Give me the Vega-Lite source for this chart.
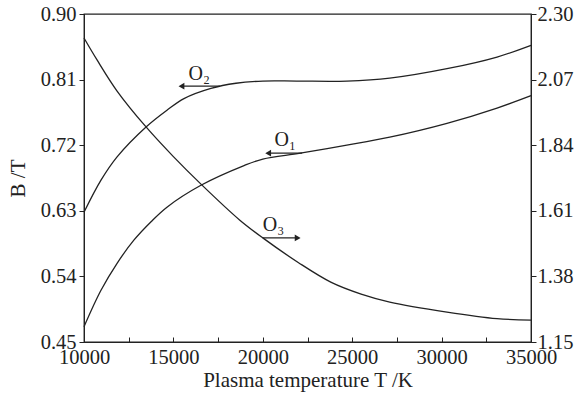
{
  "$schema": "https://vega.github.io/schema/vega-lite/v6.json",
  "width": 447,
  "height": 328,
  "autosize": {"type": "none"},
  "padding": {"left": 84, "top": 14, "right": 43, "bottom": 58},
  "background": "white",
  "config": {
    "view": {"stroke": "#222", "strokeWidth": 1.3},
    "font": "Liberation Serif",
    "axis": {"grid": false, "labelFont": "Liberation Serif", "titleFont": "Liberation Serif", "labelColor": "#222", "titleColor": "#222", "domainColor": "#222", "tickColor": "#222", "titleFontWeight": "normal", "labelFontSize": 20.5, "titleFontSize": 21}
  },
  "datasets": {
    "left": [
      {"T": 10000, "B": 0.471, "s": "O1"}, {"T": 10950, "B": 0.521, "s": "O1"}, {"T": 11850, "B": 0.558, "s": "O1"}, {"T": 12800, "B": 0.590, "s": "O1"}, {"T": 13750, "B": 0.615, "s": "O1"}, {"T": 14640, "B": 0.635, "s": "O1"}, {"T": 16540, "B": 0.665, "s": "O1"}, {"T": 18950, "B": 0.692, "s": "O1"}, {"T": 20000, "B": 0.701, "s": "O1"}, {"T": 22100, "B": 0.709, "s": "O1"}, {"T": 24700, "B": 0.720, "s": "O1"}, {"T": 27100, "B": 0.731, "s": "O1"}, {"T": 30300, "B": 0.750, "s": "O1"}, {"T": 33100, "B": 0.771, "s": "O1"}, {"T": 35000, "B": 0.788, "s": "O1"},
      {"T": 10000, "B": 0.628, "s": "O2"}, {"T": 10950, "B": 0.672, "s": "O2"}, {"T": 11850, "B": 0.704, "s": "O2"}, {"T": 13470, "B": 0.745, "s": "O2"}, {"T": 14640, "B": 0.768, "s": "O2"}, {"T": 15590, "B": 0.784, "s": "O2"}, {"T": 17100, "B": 0.798, "s": "O2"}, {"T": 18500, "B": 0.805, "s": "O2"}, {"T": 20000, "B": 0.808, "s": "O2"}, {"T": 21900, "B": 0.808, "s": "O2"}, {"T": 24700, "B": 0.808, "s": "O2"}, {"T": 27100, "B": 0.812, "s": "O2"}, {"T": 30300, "B": 0.825, "s": "O2"}, {"T": 33100, "B": 0.841, "s": "O2"}, {"T": 35000, "B": 0.857, "s": "O2"}
    ],
    "right": [
      {"T": 10000, "R": 2.216}, {"T": 10730, "R": 2.139}, {"T": 11850, "R": 2.030}, {"T": 13470, "R": 1.904}, {"T": 15000, "R": 1.800}, {"T": 16600, "R": 1.700}, {"T": 18700, "R": 1.578}, {"T": 20000, "R": 1.515}, {"T": 22000, "R": 1.428}, {"T": 23800, "R": 1.360}, {"T": 25500, "R": 1.318}, {"T": 27100, "R": 1.290}, {"T": 30300, "R": 1.255}, {"T": 33100, "R": 1.232}, {"T": 35000, "R": 1.227}
    ],
    "leftArrows": [
      {"T1": 17600, "T2": 15450, "B": 0.801, "lx": 16450, "ly": 0.818, "label": "O₂"},
      {"T1": 22200, "T2": 20300, "B": 0.709, "lx": 21250, "ly": 0.727, "label": "O₁"}
    ],
    "rightArrows": [
      {"T1": 20000, "T2": 21950, "R": 1.515, "lx": 20600, "ly": 1.56, "label": "O₃"}
    ]
  },
  "layer": [
    {
      "layer": [
        {
          "data": {"name": "left"},
          "mark": {"type": "line", "interpolate": "catmull-rom", "color": "#222", "strokeWidth": 1.3},
          "encoding": {
            "x": {"field": "T", "type": "quantitative", "scale": {"domain": [10000, 35000], "nice": false, "zero": false},
              "axis": {"title": "Plasma temperature T /K", "values": [10000, 12500, 15000, 17500, 20000, 22500, 25000, 27500, 30000, 32500, 35000], "labelExpr": "datum.value % 5000 == 0 ? datum.value : ''", "tickSize": -5, "labelPadding": 10, "titlePadding": 2, "labelFlush": false}},
            "y": {"field": "B", "type": "quantitative", "scale": {"domain": [0.45, 0.9], "nice": false, "zero": false},
              "axis": {"title": "B /T", "orient": "left", "values": [0.45, 0.495, 0.54, 0.585, 0.63, 0.675, 0.72, 0.765, 0.81, 0.855, 0.9], "labelExpr": "round(datum.value*1000) % 90 == 0 ? format(datum.value, '.2f') : ''", "tickSize": 5, "labelPadding": 3, "titlePadding": 12, "labelFlush": false}},
            "detail": {"field": "s", "type": "nominal"}
          }
        },
        {
          "data": {"name": "leftArrows"},
          "mark": {"type": "rule", "color": "#222", "strokeWidth": 1.3},
          "encoding": {"x": {"field": "T1", "type": "quantitative"}, "x2": {"field": "T2"}, "y": {"field": "B", "type": "quantitative"}}
        },
        {
          "data": {"name": "leftArrows"},
          "mark": {"type": "point", "shape": "triangle-left", "filled": true, "color": "#222", "size": 45, "opacity": 1},
          "encoding": {"x": {"field": "T2", "type": "quantitative"}, "y": {"field": "B", "type": "quantitative"}}
        },
        {
          "data": {"name": "leftArrows"},
          "mark": {"type": "text", "font": "Liberation Serif", "fontSize": 20, "color": "#222"},
          "encoding": {"x": {"field": "lx", "type": "quantitative"}, "y": {"field": "ly", "type": "quantitative"}, "text": {"field": "label"}}
        }
      ]
    },
    {
      "layer": [
        {
          "data": {"name": "right"},
          "mark": {"type": "line", "interpolate": "catmull-rom", "color": "#222", "strokeWidth": 1.3},
          "encoding": {
            "x": {"field": "T", "type": "quantitative"},
            "y": {"field": "R", "type": "quantitative", "scale": {"domain": [1.15, 2.3], "nice": false, "zero": false},
              "axis": {"title": null, "orient": "right", "values": [1.15, 1.38, 1.61, 1.84, 2.07, 2.3], "format": ".2f", "tickSize": 5, "labelPadding": 1, "labelFlush": false}}
          }
        },
        {
          "data": {"name": "rightArrows"},
          "mark": {"type": "rule", "color": "#222", "strokeWidth": 1.3},
          "encoding": {"x": {"field": "T1", "type": "quantitative"}, "x2": {"field": "T2"}, "y": {"field": "R", "type": "quantitative"}}
        },
        {
          "data": {"name": "rightArrows"},
          "mark": {"type": "point", "shape": "triangle-right", "filled": true, "color": "#222", "size": 45, "opacity": 1},
          "encoding": {"x": {"field": "T2", "type": "quantitative"}, "y": {"field": "R", "type": "quantitative"}}
        },
        {
          "data": {"name": "rightArrows"},
          "mark": {"type": "text", "font": "Liberation Serif", "fontSize": 20, "color": "#222"},
          "encoding": {"x": {"field": "lx", "type": "quantitative"}, "y": {"field": "ly", "type": "quantitative"}, "text": {"field": "label"}}
        }
      ]
    }
  ],
  "resolve": {"scale": {"y": "independent"}}
}
